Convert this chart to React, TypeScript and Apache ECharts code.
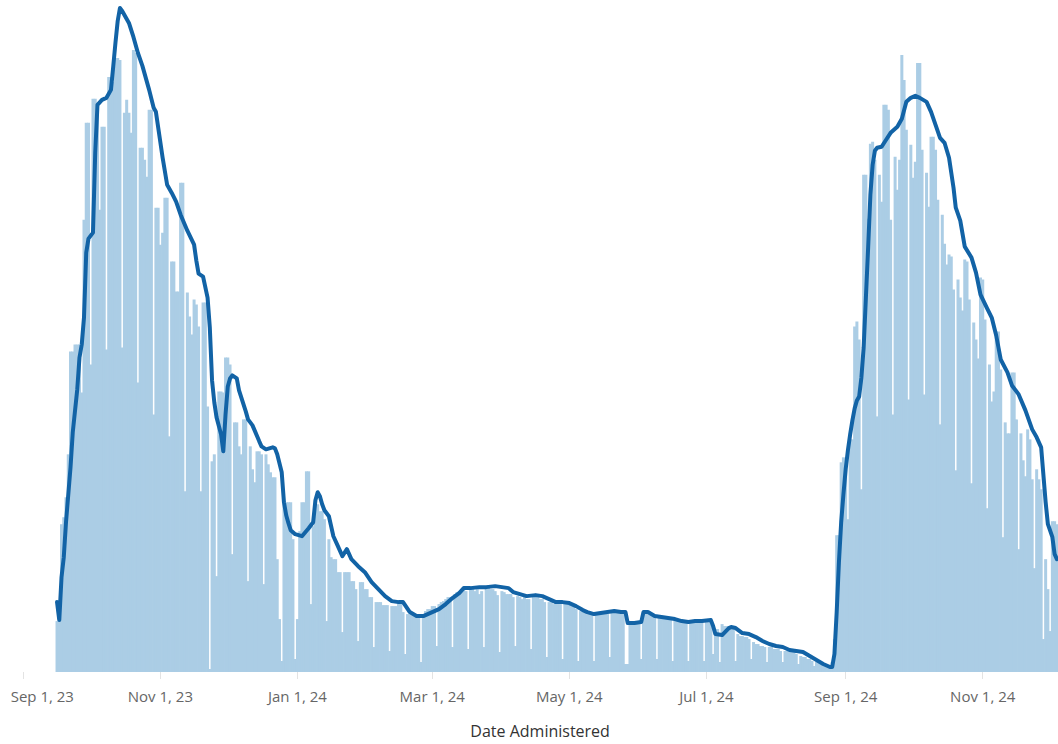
import React, { useEffect, useRef } from "react";
import * as echarts from "echarts";

// Daily categories: Sep 1, 2023 .. Dec 5, 2024
const FIRST_DAY = "2023-09-01";
const DAY_COUNT = 461;
const MONTHS = ["Jan", "Feb", "Mar", "Apr", "May", "Jun", "Jul", "Aug", "Sep", "Oct", "Nov", "Dec"];

// Daily doses (thousands, arbitrary units), starting Sep 16, 2023 (day index 15)
const BAR_START_INDEX = 15;
const dailyDoses = [
  51, 70, 148, 155, 175, 218, 321, 321, 328, 328, 328, 280, 453, 550, 550, 308, 574, 574, 570, 463,
  546, 546, 323, 596, 596, 591, 615, 615, 613, 325, 560, 573, 560, 540, 623, 620, 290, 525, 525, 513,
  496, 563, 563, 258, 465, 465, 428, 440, 475, 475, 236, 411, 411, 381, 381, 490, 490, 181, 380, 356,
  338, 373, 368, 346, 181, 370, 370, 266, 3, 211, 218, 96, 281, 281, 280, 315, 315, 308, 118, 250,
  250, 226, 218, 253, 253, 91, 226, 203, 190, 221, 221, 218, 88, 218, 208, 200, 195, 195, 113, 53,
  11, 170, 170, 170, 170, 133, 13, 53, 141, 170, 170, 201, 201, 68, 146, 168, 168, 161, 161, 153,
  51, 133, 115, 113, 113, 100, 100, 40, 100, 100, 100, 91, 91, 83, 31, 90, 90, 83, 83, 75,
  75, 25, 70, 70, 70, 67, 67, 67, 21, 66, 66, 66, 71, 71, 60, 18, 58, 58, 58, 56,
  56, 56, 10, 56, 61, 63, 63, 66, 66, 26, 68, 70, 71, 73, 75, 75, 25, 78, 80, 81,
  83, 83, 81, 23, 83, 83, 81, 83, 78, 81, 25, 85, 85, 83, 83, 81, 77, 20, 81, 80,
  78, 78, 78, 75, 26, 76, 75, 73, 75, 73, 73, 23, 76, 75, 75, 73, 73, 70, 15, 70,
  70, 68, 70, 70, 68, 13, 70, 68, 68, 66, 66, 63, 11, 61, 60, 60, 58, 58, 58, 11,
  60, 60, 60, 61, 60, 58, 15, 61, 61, 61, 60, 60, 58, 8, 8, 50, 50, 50, 50, 48,
  13, 60, 60, 58, 58, 56, 56, 13, 56, 55, 55, 55, 55, 53, 11, 53, 53, 53, 51, 51,
  51, 11, 51, 51, 51, 51, 51, 50, 11, 50, 50, 48, 18, 43, 43, 10, 48, 46, 46, 46,
  45, 43, 11, 38, 36, 36, 35, 35, 33, 13, 30, 28, 28, 26, 26, 25, 10, 25, 25, 23,
  23, 23, 21, 10, 21, 21, 20, 20, 20, 18, 8, 16, 15, 15, 13, 13, 11, 6, 10, 9,
  8, 7, 6, 5, 3, 10, 33, 137, 137, 210, 215, 203, 153, 233, 233, 346, 351, 333, 183, 498,
  498, 454, 529, 531, 513, 256, 498, 471, 568, 568, 563, 453, 258, 516, 483, 513, 618, 593, 543, 273,
  528, 495, 511, 610, 610, 523, 278, 500, 466, 536, 536, 523, 473, 248, 458, 429, 408, 418, 416, 383,
  202, 393, 375, 362, 413, 411, 373, 189, 350, 333, 314, 395, 393, 353, 164, 308, 271, 281, 341, 341,
  303, 135, 250, 239, 239, 300, 300, 253, 123, 239, 212, 196, 243, 233, 193, 104, 203, 193, 183, 33,
  113, 83, 41, 151, 151, 148,
];

// 7-day average line, read at these day indexes (days since Sep 1, 2023)
const avgDay = [
  15, 16, 17, 18, 19, 21, 22, 24, 25, 26, 27, 28, 29, 31, 32, 33, 35, 37, 39, 40,
  41, 42, 43, 44, 47, 49, 51, 53, 56, 58, 59, 62, 64, 66, 68, 70, 73, 76, 77, 78,
  80, 82, 83, 84, 85, 86, 88, 89, 90, 91, 92, 93, 95, 96, 99, 100, 102, 105, 106, 108,
  111, 112, 113, 115, 116, 117, 118, 119, 121, 124, 127, 129, 130, 131, 132, 133, 134, 136, 138, 140,
  142, 144, 146, 149, 152, 155, 158, 161, 164, 167, 169, 172, 175, 178, 180, 182, 185, 188, 191, 194,
  196, 199, 203, 206, 210, 213, 216, 218, 221, 224, 228, 231, 234, 237, 240, 243, 246, 249, 251, 254,
  257, 260, 263, 266, 268, 269, 272, 275, 276, 278, 281, 284, 287, 290, 293, 296, 299, 302, 306, 307,
  308, 311, 314, 315, 317, 320, 323, 326, 329, 332, 335, 338, 341, 344, 347, 350, 353, 356, 359, 360,
  361, 362, 363, 364, 365, 366, 367, 368, 369, 370, 371, 372, 373, 374, 375, 376, 377, 378, 379, 380,
  382, 384, 386, 389, 391, 393, 395, 397, 399, 402, 404, 406, 408, 410, 412, 414, 415, 417, 419, 422,
  424, 426, 429, 431, 433, 435, 438, 440, 443, 446, 449, 451, 453, 455, 456, 458, 459, 460,
];
const avgValue = [
  70, 52, 95, 115, 150, 205, 240, 283, 315, 328, 355, 420, 434, 440, 520, 568, 573, 575, 583, 606,
  630, 652, 665, 662, 650, 636, 620, 607, 583, 565, 561, 515, 488, 480, 471, 458, 442, 428, 412, 399,
  396, 375, 345, 292, 270, 255, 238, 221, 258, 286, 294, 297, 294, 282, 261, 253, 247, 231, 226, 223,
  225, 224, 218, 200, 170, 157, 149, 142, 138, 136, 144, 150, 172, 180, 176, 168, 162, 156, 136, 126,
  116, 123, 113, 106, 100, 90, 83, 76, 71, 70, 70, 60, 56, 56, 58, 60, 63, 68, 74, 79,
  84, 84, 85, 85, 86, 85, 84, 80, 78, 76, 77, 76, 73, 70, 70, 69, 66, 62, 60, 58,
  59, 60, 61, 60, 60, 49, 49, 50, 60, 60, 56, 55, 54, 53, 51, 50, 51, 51, 52, 46,
  38, 37, 44, 45, 44, 39, 38, 35, 31, 28, 26, 25, 22, 21, 20, 16, 12, 8, 5, 5,
  18, 60, 110, 150, 178, 203, 222, 238, 252, 264, 272, 276, 295, 325, 375, 425, 478, 508, 522, 525,
  526, 533, 540, 546, 554, 571, 575, 577, 575, 571, 561, 548, 535, 530, 515, 485, 465, 452, 426, 415,
  400, 378, 364, 355, 337, 313, 300, 287, 278, 262, 243, 235, 225, 170, 148, 135, 118, 113,
];

function addDays(iso: string, n: number): string {
  const [y, m, d] = iso.split("-").map(Number);
  const t = new Date(Date.UTC(y, m - 1, d) + n * 86400000);
  const mm = String(t.getUTCMonth() + 1).padStart(2, "0");
  const dd = String(t.getUTCDate()).padStart(2, "0");
  return `${t.getUTCFullYear()}-${mm}-${dd}`;
}

const categories: string[] = Array.from({ length: DAY_COUNT }, (_, i) => addDays(FIRST_DAY, i));

function isTickDay(v: string): boolean {
  const [, m, d] = v.split("-");
  return d === "01" && Number(m) % 2 === 1;
}

function formatDay(v: string): string {
  const [y, m, d] = v.split("-");
  return `${MONTHS[Number(m) - 1]} ${Number(d)}, ${y.slice(2)}`;
}

const FONT = "'Open Sans', sans-serif";
const BAR_COLOR = "#abcde5";

export default function App() {
  const ref = useRef<HTMLDivElement>(null);

  useEffect(() => {
    if (!ref.current) return;
    const chart = echarts.init(ref.current, undefined, { renderer: "svg" });

    const barData: (number | null)[] = categories.map((_, i) => {
      const k = i - BAR_START_INDEX;
      return k >= 0 && k < dailyDoses.length ? dailyDoses[k] : null;
    });
    const lineData = avgDay.map((d, i) => [d, avgValue[i]]);

    chart.setOption({
      animation: false,
      backgroundColor: "#ffffff",
      grid: { left: 22.2, right: 0, top: 0, bottom: 71, containLabel: false },
      xAxis: {
        type: "category",
        data: categories,
        boundaryGap: true,
        axisLine: { show: false },
        axisTick: {
          show: true,
          alignWithLabel: true,
          interval: (_i: number, v: string) => isTickDay(v),
          length: 7,
          lineStyle: { color: "#e3e3e3", width: 1 },
        },
        axisLabel: {
          interval: (_i: number, v: string) => isTickDay(v),
          formatter: (v: string, i: number) => (i === 0 ? `{first|${formatDay(v)}}` : formatDay(v)),
          color: "#666666",
          fontSize: 15,
          fontFamily: FONT,
          margin: 16,
          rich: {
            first: { padding: [0, 0, 0, 38], color: "#666666", fontSize: 15, fontFamily: FONT },
          },
        },
        splitLine: { show: false },
        name: "Date Administered",
        nameLocation: "middle",
        nameGap: 51,
        nameTextStyle: { color: "#333333", fontSize: 16, fontFamily: FONT },
      },
      yAxis: {
        type: "value",
        min: 0,
        max: 673,
        show: false,
        splitLine: { show: false },
      },
      series: [
        {
          type: "bar",
          data: barData,
          barWidth: 3,
          itemStyle: { color: BAR_COLOR },
          z: 2,
        },
        {
          type: "line",
          data: lineData,
          showSymbol: false,
          symbol: "none",
          smooth: false,
          lineStyle: { color: "#1263a6", width: 4, join: "round", cap: "round" },
          z: 3,
        },
      ],
    });

    return () => chart.dispose();
  }, []);

  return (
    <div
      ref={ref}
      style={{ position: "fixed", left: 0, top: 0, width: 1058, height: 744, background: "#fff" }}
    />
  );
}
